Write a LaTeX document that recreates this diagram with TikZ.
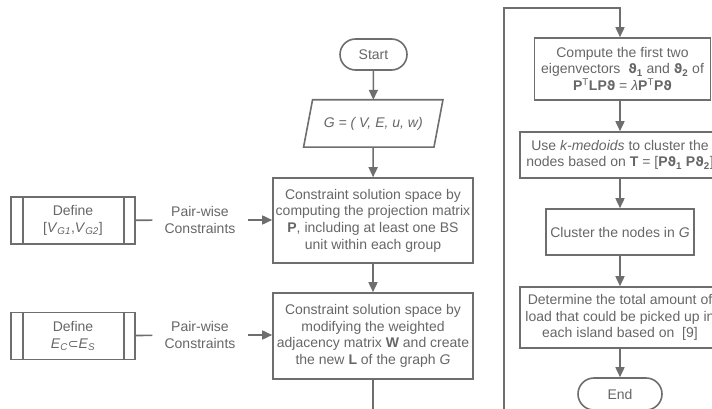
\documentclass[tikz,border=0pt]{standalone}
\usepackage{fontspec}
\setmainfont{Liberation Sans}
\newfontfamily\symf{DejaVu Sans}[Scale=0.92]
\usetikzlibrary{arrows.meta,shapes.misc}
\definecolor{ink}{HTML}{666666}
\definecolor{edge}{HTML}{6E6E6E}
% bold theta symbol and subset sign
\newcommand{\bth}{{\symf\bfseries ϑ}}
\newcommand{\subsetsym}{{\symf ⊂}}
\begin{document}
\begin{tikzpicture}[x=1pt,y=-1pt,
  every node/.style={font=\fontsize{14}{16.7}\selectfont, text=ink},
  line/.style={draw=edge, line width=1.6pt},
  arr/.style={line, -{Triangle[length=10pt,width=9pt]}},
  procbox/.style={line, rectangle, align=center, inner sep=0pt},
  term/.style={line, rounded rectangle, inner sep=0pt},
  defbox/.style={line, rectangle, align=center, inner sep=0pt,
    minimum width=124pt, minimum height=47pt},
  tag/.style={align=center, inner xsep=12pt, inner ysep=2pt}
]
\clip (0,0) rectangle (712,409);
\useasboundingbox (0,0) rectangle (712,409);

% ---- main column ----
\node[term, minimum width=67pt, minimum height=31pt] (start) at (373.5,54.5) {Start};

\node[inner sep=0pt, minimum width=130pt, minimum height=47pt] (input) at (373.25,123.5)
  {\textit{G = ( V, E, u, w)}};
\draw[line] ([xshift=-4.5pt]input.south west) -- ([xshift=4.5pt]input.north west)
  -- ([xshift=4.5pt]input.north east) -- ([xshift=-4.5pt]input.south east) -- cycle;

\node[procbox, minimum width=200pt, minimum height=85pt] (proj) at (373,220.5)
  {Constraint solution space by\\computing the projection matrix\\
   \textbf{P}, including at least one BS\\unit within each group};

\node[procbox, minimum width=200pt, minimum height=86pt] (adj) at (373,336)
  {Constraint solution space by\\modifying the weighted\\
   adjacency matrix \textbf{W} and create\\the new \textbf{L} of the graph \textit{G}};

\coordinate (down) at (373,412);

% ---- constraint inputs ----
\node[defbox] (def1) at (73,220.5) {Define\\{}[\textit{V}\textsubscript{\textit{G1}},\textit{V}\textsubscript{\textit{G2}}]};
\draw[line] ([xshift=13pt]def1.north west) -- ([xshift=13pt]def1.south west);
\draw[line] ([xshift=-12pt]def1.north east) -- ([xshift=-12pt]def1.south east);
\node[tag] (pw1) at (200,220) {Pair-wise\\Constraints};

\node[defbox] (def2) at (73,336) {Define\\\textit{E}\textsubscript{\textit{C}}\subsetsym\textit{E}\textsubscript{\textit{S}}};
\draw[line] ([xshift=13pt]def2.north west) -- ([xshift=13pt]def2.south west);
\draw[line] ([xshift=-12pt]def2.north east) -- ([xshift=-12pt]def2.south east);
\node[tag] (pw2) at (200,335) {Pair-wise\\Constraints};

% ---- second column ----
\coordinate (lbot) at (504,412);
\coordinate (ltop) at (504,8);
\coordinate (rtop) at (620,8);

\node[procbox, minimum width=176pt, minimum height=62pt] (eig) at (622.5,69)
  {Compute the first two\\eigenvectors \ \bth\textsubscript{\textbf{1}} and \bth\textsubscript{\textbf{2}} of\\
   \textbf{P}\textsuperscript{T}\textbf{LP}\bth{} = \textit{λ}\textbf{P}\textsuperscript{T}\textbf{P}\bth};

\node[procbox, minimum width=200pt, minimum height=46pt] (kmed) at (620,155)
  {Use \textit{k-medoids} to cluster the\\nodes based on \textbf{T} = [\textbf{P}\bth\textsubscript{\textbf{1}} \textbf{P}\bth\textsubscript{\textbf{2}}]};

\node[procbox, minimum width=148pt, minimum height=46pt] (clus) at (620,232)
  {Cluster the nodes in \textit{G}};

\node[procbox, minimum width=200pt, minimum height=61pt] (load) at (620,317.5)
  {Determine the total amount of\\load that could be picked up in\\each island based on \ [9]};

\node[term, minimum width=84pt, minimum height=32pt] (end) at (620,394) {End};

% ---- connectors ----
\draw[arr] (start) -- (input);
\draw[arr] (input) -- (proj);
\draw[arr] (proj) -- (adj);
\draw[line] (adj) -- (down);

\draw[line] (def1) -- (pw1);
\draw[arr] (pw1) -- (proj.west |- pw1);
\draw[line] (def2) -- (pw2);
\draw[arr] (pw2) -- (adj.west |- pw2);

\draw[arr] (lbot) -- (ltop) -- (rtop) -- (rtop |- eig.north);
\draw[arr] (eig.south -| rtop) -- (kmed);
\draw[arr] (kmed) -- (clus);
\draw[arr] (clus) -- (load);
\draw[arr] (load) -- (end);
\end{tikzpicture}
\end{document}
